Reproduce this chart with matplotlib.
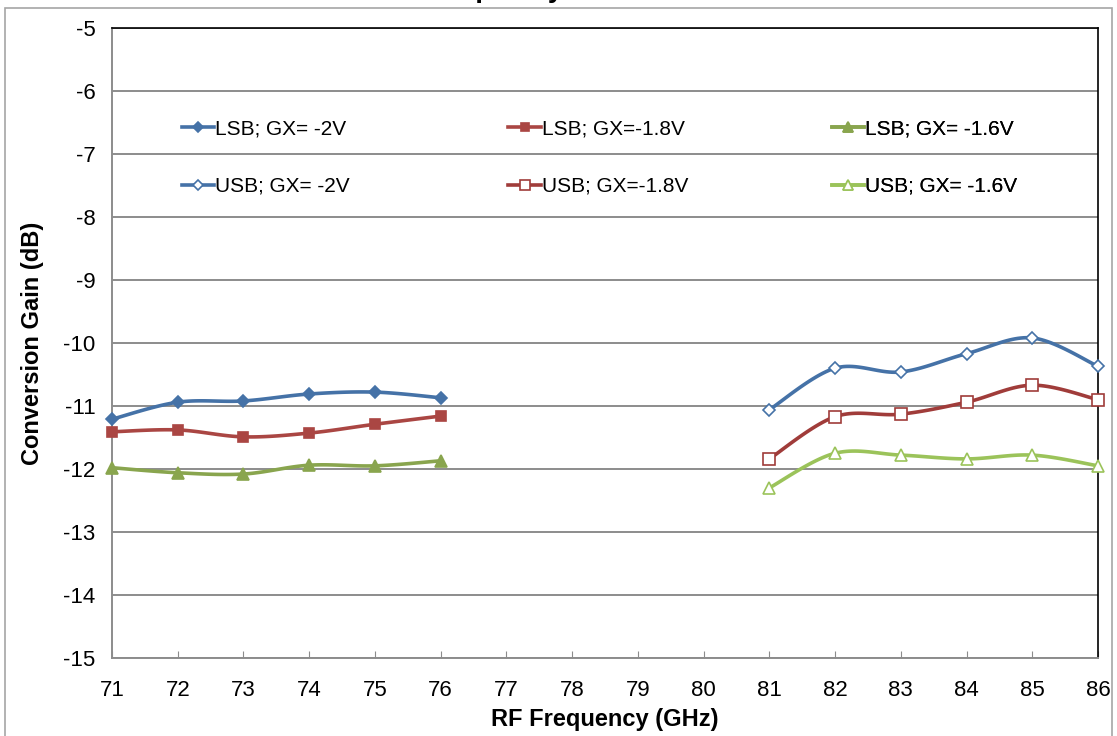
import numpy as np
import matplotlib.pyplot as plt
from matplotlib.lines import Line2D
from matplotlib.patches import Rectangle

plt.rcParams['font.family'] = ['Liberation Sans', 'DejaVu Sans']
plt.rcParams['axes.unicode_minus'] = False

# LSB band (71-76 GHz) and USB band (81-86 GHz)
freq_lsb = [71, 72, 73, 74, 75, 76]
freq_usb = [81, 82, 83, 84, 85, 86]

lsb_2v = [-11.21, -10.94, -10.92, -10.81, -10.78, -10.87]
lsb_18v = [-11.41, -11.38, -11.49, -11.43, -11.29, -11.16]
lsb_16v = [-11.98, -12.06, -12.08, -11.94, -11.95, -11.87]

usb_2v = [-11.06, -10.40, -10.46, -10.17, -9.92, -10.37]
usb_18v = [-11.84, -11.17, -11.13, -10.94, -10.67, -10.90]
usb_16v = [-12.30, -11.75, -11.78, -11.84, -11.78, -11.95]

labels = ['LSB; GX= -2V', 'LSB; GX=-1.8V', 'LSB; GX= -1.6V',
          'USB; GX= -2V', 'USB; GX=-1.8V', 'USB; GX= -1.6V']

BLUE = '#4572A7'
RED = '#AA4643'
GREEN = '#89A54E'
LGREEN = '#9BC35A'


def smooth(x, y, steps=24):
    # cubic Bezier through every point, tangents like a Catmull-Rom curve
    x = np.asarray(x, float)
    y = np.asarray(y, float)
    px = np.concatenate([[x[0]], x, [x[-1]]])
    py = np.concatenate([[y[0]], y, [y[-1]]])
    t = np.linspace(0, 1, steps)
    xs, ys = [], []
    for i in range(1, len(px) - 2):
        p0 = np.array([px[i], py[i]])
        p3 = np.array([px[i + 1], py[i + 1]])
        p1 = p0 + (np.array([px[i + 1], py[i + 1]]) - np.array([px[i - 1], py[i - 1]])) / 6
        p2 = p3 - (np.array([px[i + 2], py[i + 2]]) - np.array([px[i], py[i]])) / 6
        b = ((1 - t) ** 3)[:, None] * p0 + (3 * (1 - t) ** 2 * t)[:, None] * p1 \
            + (3 * (1 - t) * t ** 2)[:, None] * p2 + (t ** 3)[:, None] * p3
        xs.append(b[:, 0])
        ys.append(b[:, 1])
    return np.concatenate(xs), np.concatenate(ys)


fig = plt.figure(figsize=(11.17, 7.36), dpi=100)
ax = fig.add_axes([0.1003, 0.106, 0.8827, 0.856])

series = [
    (freq_lsb, lsb_2v, BLUE, 'D', BLUE, 6.5),
    (freq_lsb, lsb_18v, RED, 's', RED, 7.5),
    (freq_lsb, lsb_16v, GREEN, '^', GREEN, 8),
    (freq_usb, usb_2v, BLUE, 'D', 'white', 6.5),
    (freq_usb, usb_18v, '#A03C3A', 's', 'white', 8),
    (freq_usb, usb_16v, LGREEN, '^', 'white', 9),
]

handles = []
for (x, y, col, mk, fc, ms), lab in zip(series, labels):
    sx, sy = smooth(x, y)
    ax.plot(sx, sy, color=col, lw=2.6, solid_capstyle='round', zorder=3)
    ax.plot(x, y, ls='none', marker=mk, ms=ms, mfc=fc, mec=col, mew=1.2,
            zorder=4, clip_on=False)
    handles.append(Line2D([], [], color=col, lw=2.6, marker=mk, ms=ms * 0.85,
                          mfc=fc, mec=col, mew=1.2))

ax.set_xlim(71, 86)
ax.set_ylim(-15, -5)
ax.set_xticks(range(71, 87))
ax.set_yticks(range(-15, -4))
ax.yaxis.grid(True, color='#8C8C8C', lw=1.4)
ax.set_axisbelow(True)

ax.tick_params(axis='x', direction='in', length=5, color='#8C8C8C',
               labelsize=16, pad=16)
ax.tick_params(axis='y', length=0, labelsize=16, pad=12)
for side in ('left', 'bottom'):
    ax.spines[side].set_color('#8C8C8C')
    ax.spines[side].set_linewidth(1.4)
for side in ('top', 'right'):
    ax.spines[side].set_color('black')
    ax.spines[side].set_linewidth(1.2)

ax.set_xlabel('RF Frequency (GHz)', fontsize=17, fontweight='bold', labelpad=5)
ax.set_ylabel('Conversion Gain (dB)', fontsize=17, fontweight='bold', labelpad=14)

# legend: one column per gate voltage, LSB row over USB row
for k, x0 in enumerate([0.071, 0.402, 0.730]):
    leg = ax.legend([handles[k], handles[k + 3]], [labels[k], labels[k + 3]],
                    frameon=False, loc='upper left', bbox_to_anchor=(x0, 0.855),
                    fontsize=15, handlelength=1.55, handletextpad=0.05,
                    borderpad=0, borderaxespad=0, labelspacing=1.85)
    ax.add_artist(leg)

fig.text(0.545, 1 + 3 / 736, 'RF Frequency vs. Conversion Gain',
         ha='center', va='baseline', fontsize=20, fontweight='bold')

fig.patches.append(Rectangle((5 / 1117, -0.01), 1107 / 1117, 1 - 8 / 736 + 0.01,
                             transform=fig.transFigure, fill=False,
                             edgecolor='#A6A6A6', lw=1.2))

fig.savefig('out.png', dpi=100)
